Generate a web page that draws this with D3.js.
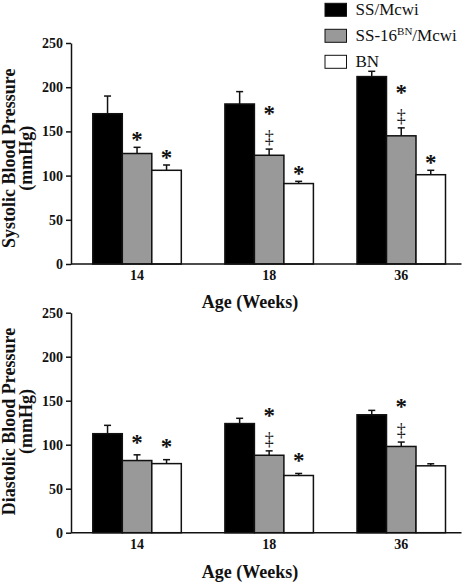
<!DOCTYPE html>
<html>
<head>
<meta charset="utf-8">
<script src="https://cdn.jsdelivr.net/npm/d3@7"></script>
<style>
  html, body { margin: 0; padding: 0; background: #fff; }
  svg { display: block; font-family: "Liberation Serif", "Times New Roman", serif; }
</style>
</head>
<body>
<svg id="chart" width="464" height="582" font-family="Liberation Serif, serif"></svg>
<script>
// ---- data ----
const ages = ["14", "18", "36"];
const seriesNames = ["SS/Mcwi", "SS-16BN/Mcwi", "BN"];
const seriesColors = ["#000000", "#999999", "#ffffff"];
const yTicks = [0, 50, 100, 150, 200, 250];

// Systolic (mmHg): rows = series, cols = ages
const systolicSS   = [170, 181, 212];
const systolicCon  = [125, 123, 145];
const systolicBN   = [106, 91, 101];
const systolicSS_err  = [20, 14, 6];
const systolicCon_err = [7, 7, 9];
const systolicBN_err  = [6, 2.5, 5];

// Diastolic (mmHg)
const diastolicSS   = [112.5, 124, 134];
const diastolicCon  = [82, 88, 98];
const diastolicBN   = [78.5, 65, 76];
const diastolicSS_err  = [9.5, 6, 5];
const diastolicCon_err = [6.5, 5, 5];
const diastolicBN_err  = [4.5, 2.3, 2.3];

// significance marks: "*" vs SS, "‡" vs BN (per series, per age)
const systolicStars   = [[0,0,0],[1,1,1],[1,1,1]];
const systolicDaggers = [[0,0,0],[0,1,1],[0,0,0]];
const diastolicStars   = [[0,0,0],[1,1,1],[1,1,0]];
const diastolicDaggers = [[0,0,0],[0,1,1],[0,0,0]];

const svg = d3.select("#chart");

function drawPanel(cfg) {
  const g = svg.append("g");
  const y = d3.scaleLinear().domain([0, 250]).range([cfg.y0, cfg.y250]);
  const x = d3.scaleBand().domain(ages).range([71, 467.3]).paddingInner(0.33).paddingOuter(0.165);
  const xs = d3.scaleBand().domain(seriesNames).range([0, x.bandwidth()]);

  const rows = [];
  cfg.values.forEach((vals, si) => {
    vals.forEach((v, ai) => {
      rows.push({ s: seriesNames[si], si, age: ages[ai], ai, v, e: cfg.errs[si][ai],
        star: cfg.stars[si][ai], dag: cfg.daggers[si][ai] });
    });
  });

  // error bars
  const eb = g.append("g").attr("stroke", "#111").attr("stroke-width", 1.5);
  rows.forEach(d => {
    const cx = x(d.age) + xs(d.s) + xs.bandwidth() / 2;
    eb.append("line").attr("x1", cx).attr("x2", cx).attr("y1", y(d.v)).attr("y2", y(d.v + d.e));
    eb.append("line").attr("x1", cx - 3.5).attr("x2", cx + 3.5).attr("y1", y(d.v + d.e)).attr("y2", y(d.v + d.e));
  });

  // bars
  g.append("g").selectAll("rect").data(rows).join("rect")
    .attr("x", d => x(d.age) + xs(d.s))
    .attr("y", d => y(d.v))
    .attr("width", xs.bandwidth())
    .attr("height", d => y(0) - y(d.v))
    .attr("fill", d => seriesColors[d.si])
    .attr("stroke", "#111")
    .attr("stroke-width", 1.5);

  // annotations
  const an = g.append("g").attr("fill", "#111");
  const starSize = 23;
  const starOff = 0.47 * starSize;
  rows.forEach(d => {
    const cx = x(d.age) + xs(d.s) + xs.bandwidth() / 2;
    const top = y(d.v + d.e);
    if (d.dag) {
      an.append("text").attr("x", cx).attr("y", top - 11 + 5).attr("text-anchor", "middle")
        .attr("font-size", 18).text("‡");
      if (d.star) an.append("text").attr("x", cx).attr("y", top - 39 + starOff).attr("text-anchor", "middle")
        .attr("font-size", starSize).attr("font-weight", "bold").text("*");
    } else if (d.star) {
      an.append("text").attr("x", cx).attr("y", top - cfg.starGap + starOff).attr("text-anchor", "middle")
        .attr("font-size", starSize).attr("font-weight", "bold").text("*");
    }
  });

  // y axis
  const ya = g.append("g").attr("transform", "translate(71,0)")
    .call(d3.axisLeft(y).tickValues(yTicks).tickSize(5).tickSizeOuter(0).tickPadding(3));
  ya.attr("font-family", "Liberation Serif, serif");
  ya.select(".domain").attr("stroke", "#111").attr("stroke-width", 1.5);
  ya.selectAll(".tick line").attr("stroke", "#111").attr("stroke-width", 1.5);
  ya.selectAll("text").attr("font-weight", "bold").attr("font-size", 14).attr("fill", "#111");

  // x axis
  const xa = g.append("g").attr("transform", `translate(0,${cfg.y0})`)
    .call(d3.axisBottom(x).tickSize(0).tickPadding(6.5));
  xa.attr("font-family", "Liberation Serif, serif");
  xa.select(".domain").remove();
  xa.selectAll("text").attr("font-weight", "bold").attr("font-size", 14).attr("fill", "#111");
  g.append("line").attr("x1", 71).attr("x2", 461.5).attr("y1", cfg.y0).attr("y2", cfg.y0)
    .attr("stroke", "#111").attr("stroke-width", 1.5);

  // x title
  g.append("text").attr("x", 250).attr("y", cfg.xTitleY).attr("text-anchor", "middle")
    .attr("font-size", 18).attr("font-weight", "bold").attr("fill", "#111").text("Age (Weeks)");

  // y title
  const yt = g.append("text").attr("transform", `translate(0,${cfg.yTitleC}) rotate(-90)`)
    .attr("text-anchor", "middle").attr("font-size", 18).attr("font-weight", "bold").attr("fill", "#111");
  yt.append("tspan").attr("x", 0).attr("y", 15).text(cfg.yTitle);
  yt.append("tspan").attr("x", 0).attr("y", 32).text("(mmHg)");
}

drawPanel({
  y0: 264, y250: 43,
  values: [systolicSS, systolicCon, systolicBN],
  errs: [systolicSS_err, systolicCon_err, systolicBN_err],
  stars: systolicStars, daggers: systolicDaggers,
  starGap: 11,
  xTitleY: 308.3, yTitleC: 158.3, yTitle: "Systolic Blood Pressure"
});
drawPanel({
  y0: 532.7, y250: 312.7,
  values: [diastolicSS, diastolicCon, diastolicBN],
  errs: [diastolicSS_err, diastolicCon_err, diastolicBN_err],
  stars: diastolicStars, daggers: diastolicDaggers,
  starGap: 16,
  xTitleY: 578, yTitleC: 421.5, yTitle: "Diastolic Blood Pressure"
});

// legend
const lg = svg.append("g");
seriesNames.forEach((name, i) => {
  const yy = 3.3 + i * 26;
  lg.append("rect").attr("x", 325).attr("y", yy).attr("width", 21.5).attr("height", 13)
    .attr("fill", seriesColors[i]).attr("stroke", "#111").attr("stroke-width", 1);
  const t = lg.append("text").attr("x", 355.5).attr("y", yy + 12).attr("font-size", 17).attr("fill", "#111");
  if (name === "SS-16BN/Mcwi") {
    t.append("tspan").text("SS-16");
    t.append("tspan").attr("font-size", 11).attr("dy", -6).text("BN");
    t.append("tspan").attr("dy", 6).text("/Mcwi");
  } else {
    t.text(name);
  }
});
</script>
</body>
</html>
